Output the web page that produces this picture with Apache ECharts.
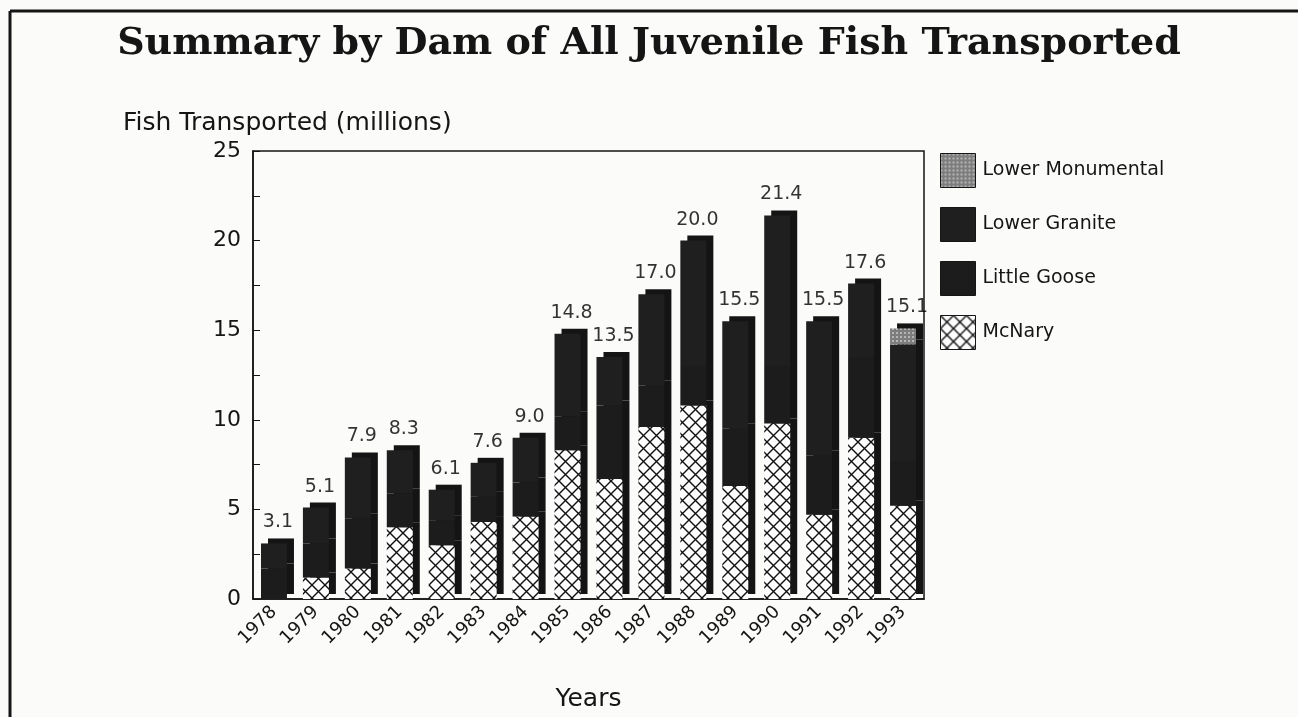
<!DOCTYPE html>
<html>
<head>
<meta charset="utf-8">
<title>Summary by Dam of All Juvenile Fish Transported</title>
<script src="https://cdn.jsdelivr.net/npm/echarts@6/dist/echarts.min.js"></script>
<style>
  html, body { margin: 0; padding: 0; background: #fbfbfa; }
  #chart { width: 1298px; height: 717px; }
</style>
</head>
<body>
<div id="chart"></div>
<script>
// 年份
var years = ['1978','1979','1980','1981','1982','1983','1984','1985','1986','1987','1988','1989','1990','1991','1992','1993'];
// 各坝运输量 (百万)
var mcNary      = [0, 1.2, 1.7, 4.0, 3.0, 4.3, 4.6, 8.3, 6.7, 9.6, 10.8, 6.3, 9.8, 4.7, 9.0, 5.2];
var littleGoose = [1.7, 1.9, 2.8, 1.9, 1.4, 1.4, 1.9, 1.9, 4.1, 2.3, 2.2, 3.2, 3.2, 3.3, 4.5, 2.5];
var lowerGranite = [1.4, 2.0, 3.4, 2.4, 1.7, 1.9, 2.5, 4.6, 2.7, 5.1, 7.0, 6.0, 8.4, 7.5, 4.1, 6.5];
var lowerMonumental = [0, 0, 0, 0, 0, 0, 0, 0, 0, 0, 0, 0, 0, 0, 0, 0.9];
// 柱顶总数
var totals = [3.1, 5.1, 7.9, 8.3, 6.1, 7.6, 9.0, 14.8, 13.5, 17.0, 20.0, 15.5, 21.4, 15.5, 17.6, 15.1];

var ink = '#151515';
var font = 'DejaVu Sans';

// 交叉网纹 (McNary)
function hatch() {
  var c = document.createElement('canvas');
  c.width = 13; c.height = 13;
  var g = c.getContext('2d');
  g.fillStyle = '#fdfdfd';
  g.fillRect(0, 0, 13, 13);
  g.strokeStyle = '#111';
  g.lineWidth = 1.4;
  g.beginPath();
  g.moveTo(0, 0); g.lineTo(13, 13);
  g.moveTo(13, 0); g.lineTo(0, 13);
  g.stroke();
  return c;
}
// 灰色网点 (Lower Monumental)
function greyDots() {
  var c = document.createElement('canvas');
  c.width = 4; c.height = 4;
  var g = c.getContext('2d');
  g.fillStyle = '#7d7d7d';
  g.fillRect(0, 0, 4, 4);
  g.fillStyle = '#b5b5b5';
  g.fillRect(0, 0, 2, 2);
  return c;
}

var bar3d = {
  shadowColor: '#141414',
  shadowBlur: 0,
  shadowOffsetX: 7,
  shadowOffsetY: -5
};

function barSeries(name, data, color) {
  return {
    name: name,
    type: 'bar',
    stack: 'dam',
    barWidth: 26,
    data: data,
    itemStyle: Object.assign({ color: color }, bar3d)
  };
}

var chart = echarts.init(document.getElementById('chart'));
chart.setOption({
  backgroundColor: '#fbfbfa',
  animation: false,
  textStyle: { fontFamily: font, color: ink },
  title: [
    {
      text: 'Summary by Dam of All Juvenile Fish Transported',
      left: 'center',
      top: 20,
      textStyle: { fontFamily: 'DejaVu Serif', fontWeight: 'bold', fontSize: 38, color: ink }
    },
    {
      text: 'Fish Transported (millions)',
      left: 118,
      top: 106,
      textStyle: { fontFamily: font, fontWeight: 'normal', fontSize: 25, color: ink }
    }
  ],
  graphic: [
    { type: 'line', shape: { x1: 10, y1: 11, x2: 1298, y2: 11 }, style: { stroke: ink, lineWidth: 3 } },
    { type: 'line', shape: { x1: 10, y1: 11, x2: 10, y2: 717 }, style: { stroke: ink, lineWidth: 3 } }
  ],
  legend: {
    data: ['Lower Monumental', 'Lower Granite', 'Little Goose', 'McNary'],
    orient: 'vertical',
    left: 935,
    top: 148,
    itemWidth: 35,
    itemHeight: 34,
    itemGap: 19,
    icon: 'rect',
    textStyle: { fontFamily: font, fontSize: 19, color: ink, padding: [0, 0, 0, 2] },
    itemStyle: { borderColor: ink, borderWidth: 1, shadowBlur: 0, shadowOffsetX: 0, shadowOffsetY: 0, shadowColor: 'transparent' }
  },
  grid: { left: 253, right: 374, top: 151, bottom: 116, show: true, borderColor: ink, borderWidth: 1.5 },
  xAxis: {
    type: 'category',
    data: years,
    name: 'Years',
    nameLocation: 'middle',
    nameGap: 88,
    nameTextStyle: { fontFamily: font, fontSize: 25, color: ink },
    axisLine: { lineStyle: { color: ink, width: 1.5 } },
    axisTick: { show: false },
    axisLabel: { rotate: 45, fontFamily: font, fontSize: 18, color: ink, margin: 10 }
  },
  yAxis: {
    type: 'value',
    min: 0,
    max: 25,
    interval: 5,
    axisLine: { show: true, lineStyle: { color: ink, width: 1.5 } },
    axisTick: { show: true, inside: true, length: 7, lineStyle: { color: ink } },
    minorTick: { show: true, splitNumber: 2, length: 7, lineStyle: { color: ink } },
    splitLine: { show: false },
    axisLabel: { fontFamily: font, fontSize: 22, color: ink, margin: 12 }
  },
  series: [
    barSeries('McNary', mcNary, { image: hatch(), repeat: 'repeat' }),
    barSeries('Little Goose', littleGoose, '#1c1c1c'),
    barSeries('Lower Granite', lowerGranite, '#1f1f1f'),
    barSeries('Lower Monumental', lowerMonumental, { image: greyDots(), repeat: 'repeat' }),
    {
      name: 'total',
      type: 'scatter',
      data: totals,
      symbolSize: 1,
      itemStyle: { color: 'rgba(0,0,0,0)' },
      label: {
        show: true,
        position: 'top',
        distance: 11,
        offset: [4, 0],
        fontFamily: font,
        fontSize: 19,
        color: '#000',
        formatter: function (p) { return p.value.toFixed(1); }
      },
      z: 5
    }
  ]
});
</script>
</body>
</html>
